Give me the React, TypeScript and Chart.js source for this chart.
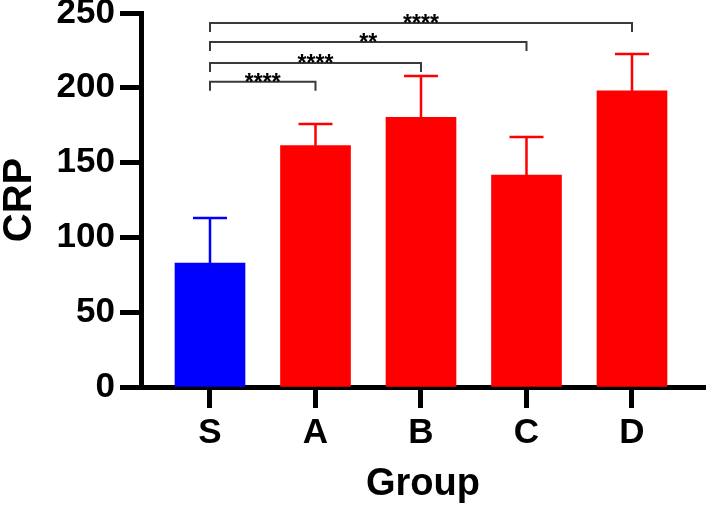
import React, { useEffect, useRef } from 'react';
import { Chart, registerables } from 'chart.js';

Chart.register(...registerables);

const categories = ['S', 'A', 'B', 'C', 'D'];
const means = [82.9, 161.3, 180.3, 141.7, 197.9];
const errors = [30.1, 14.5, 27.6, 25.4, 24.7];
const barColors = ['#0000FF', '#FF0000', '#FF0000', '#FF0000', '#FF0000'];
const yTicks = [0, 50, 100, 150, 200, 250];
const bracketFrom = [0, 0, 0, 0];
const bracketTo = [1, 2, 3, 4];
const bracketLevel = [204, 216.6, 230.6, 243.3];
const bracketDrop = 6;
const bracketLabels = ['****', '****', '**', '****'];

const FONT = "'Liberation Sans', Arial, Helvetica, sans-serif";

const annotations = {
  id: 'annotations',
  afterDatasetsDraw(chart: any) {
    const { ctx } = chart;
    const xs = chart.scales.x;
    const ys = chart.scales.y;
    ctx.save();
    // error bars
    means.forEach((m, i) => {
      const x = xs.getPixelForValue(i);
      const yTop = ys.getPixelForValue(m + errors[i]);
      const yMean = ys.getPixelForValue(m);
      ctx.strokeStyle = barColors[i];
      ctx.lineWidth = 2.5;
      ctx.beginPath();
      ctx.moveTo(x, yMean);
      ctx.lineTo(x, yTop);
      ctx.moveTo(x - 17, yTop);
      ctx.lineTo(x + 17, yTop);
      ctx.stroke();
    });
    // significance brackets
    bracketLabels.forEach((label, k) => {
      const x1 = xs.getPixelForValue(bracketFrom[k]);
      const x2 = xs.getPixelForValue(bracketTo[k]);
      const y = ys.getPixelForValue(bracketLevel[k]);
      const yd = ys.getPixelForValue(bracketLevel[k] - bracketDrop);
      ctx.strokeStyle = '#3a3a3a';
      ctx.lineWidth = 2;
      ctx.beginPath();
      ctx.moveTo(x1, yd);
      ctx.lineTo(x1, y);
      ctx.lineTo(x2, y);
      ctx.lineTo(x2, yd);
      ctx.stroke();
      ctx.fillStyle = '#000';
      ctx.font = `bold 23px ${FONT}`;
      ctx.textAlign = 'center';
      ctx.textBaseline = 'alphabetic';
      ctx.fillText(label, (x1 + x2) / 2, y + 8);
    });
    ctx.restore();
  },
};

const zeroPad = (s: any) => {
  s.paddingTop = 0;
  s.paddingBottom = 0;
  s.paddingLeft = 0;
  s.paddingRight = 0;
};

export default function App() {
  const ref = useRef<HTMLCanvasElement | null>(null);
  useEffect(() => {
    document.body.style.margin = '0';
    const canvas = ref.current;
    if (!canvas) return;
    const chart = new Chart(canvas, {
      type: 'bar',
      data: {
        datasets: [
          {
            data: means.map((v, i) => ({ x: i, y: v })),
            backgroundColor: barColors,
            borderWidth: 0,
            barThickness: 70,
          } as any,
        ],
      },
      options: {
        animation: false,
        responsive: false,
        devicePixelRatio: 1,
        layout: { autoPadding: false, padding: { left: 0, right: 2, top: 13, bottom: 0 } } as any,
        plugins: { legend: { display: false }, tooltip: { enabled: false } },
        scales: {
          x: {
            type: 'linear',
            min: -0.654,
            max: 4.692,
            offset: false,
            afterBuildTicks: (s: any) => {
              s.ticks = categories.map((_, i) => ({ value: i }));
            },
            afterFit: (s: any) => {
              s.height = 127;
              zeroPad(s);
            },
            ticks: {
              callback: (v: any) => categories[v] ?? '',
              font: { family: FONT, size: 35, weight: 'bold' },
              color: '#000',
              padding: 4,
              autoSkip: false,
              maxRotation: 0,
            },
            grid: { offset: false, drawOnChartArea: false, tickLength: 21, tickWidth: 5, tickColor: '#000' } as any,
            border: { width: 5, color: '#000' },
            title: {
              display: true,
              text: 'Group',
              color: '#000',
              font: { family: FONT, size: 38, weight: 'bold', lineHeight: 1 },
              padding: { top: 0, bottom: 10 },
            },
          } as any,
          y: {
            min: 0,
            max: 250,
            afterBuildTicks: (s: any) => {
              s.ticks = yTicks.map((v) => ({ value: v }));
            },
            afterFit: (s: any) => {
              s.width = 141;
              zeroPad(s);
            },
            ticks: {
              font: { family: FONT, size: 35, weight: 'bold' },
              color: '#000',
              padding: 5,
            },
            grid: { drawOnChartArea: false, tickLength: 21, tickWidth: 5, tickColor: '#000' } as any,
            border: { width: 5, color: '#000' },
            title: {
              display: true,
              text: 'CRP',
              color: '#000',
              font: { family: FONT, size: 40, weight: 'bold', lineHeight: 1 },
              padding: { top: 0, bottom: 0 },
            },
          } as any,
        },
      },
      plugins: [annotations],
    });
    return () => chart.destroy();
  }, []);
  return (
    <div style={{ width: 707, height: 514 }}>
      <canvas ref={ref} width={707} height={514} />
    </div>
  );
}
